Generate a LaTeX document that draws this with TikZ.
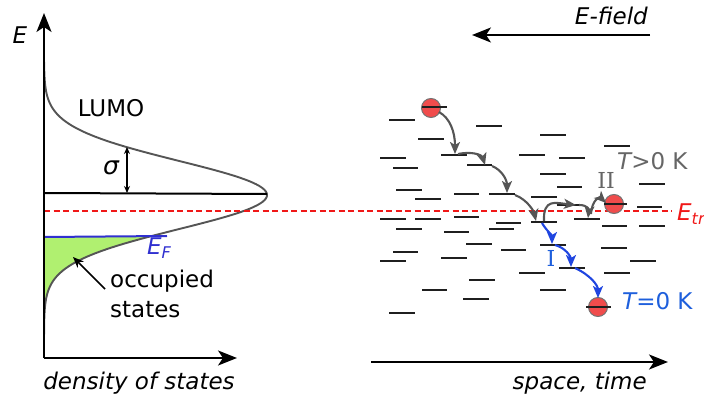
\documentclass[tikz,border=0pt]{standalone}
\usepackage{fontspec}
\setsansfont{DejaVu Sans}
\newfontfamily\romfont{DejaVu Serif}
\usetikzlibrary{arrows.meta}
\definecolor{dgray}{HTML}{555555}
\definecolor{tgray}{HTML}{666666}
\definecolor{hopblue}{HTML}{1F45E0}
\definecolor{tblue}{HTML}{1E5FDC}
\definecolor{efblue}{HTML}{3030D0}
\definecolor{etred}{HTML}{F01818}
\definecolor{occgreen}{HTML}{B0F070}
\definecolor{elred}{HTML}{F04C4C}
\tikzset{
  axisline/.style={line width=2pt, draw=black, -{Stealth[length=19pt,width=15pt,inset=5pt]}},
  site/.style={line width=2.4pt, draw=black!88},
  hopgray/.style={line width=2.1pt, draw=dgray, -{Stealth[length=12pt,width=10pt,inset=3pt]}},
  hopblue/.style={line width=2.1pt, draw=hopblue, -{Stealth[length=12pt,width=10pt,inset=3pt]}},
  electron/.style={circle, minimum size=19pt, fill=elred, draw=black!55, line width=1pt},
  lbl/.style={font=\sffamily\fontsize{23}{29}\selectfont, inner sep=0pt},
}
\newcommand{\site}[3]{\draw[site] (#1,#3) -- (#2,#3);}
\begin{document}
\begin{tikzpicture}[x=1pt,y=-1pt]
\useasboundingbox (0,0) rectangle (704,403);

% ---------- left panel: density of states ----------
\fill[occgreen] plot[domain=237:302,samples=60] ({44+223*exp(-0.5*((\x-195)/34)^2)},\x) -- (44,302) -- (44,237) -- cycle;
\draw[line width=1.9pt, dgray] plot[domain=62:340,samples=160] ({44+223*exp(-0.5*((\x-195)/34)^2)},\x);
\draw[line width=2pt] (44,193) -- (267,194);
\draw[line width=2pt, efblue] (44,237) -- (167,236);
\draw[etred, line width=1.7pt, dash pattern=on 6pt off 3.5pt] (44,211) -- (672,211);

\coordinate (origin) at (44,358);
\coordinate (Etop) at (44,13);
\coordinate (DOSend) at (237,358);
\draw[axisline] (origin) -- (Etop);
\draw[axisline] (origin) -- (DOSend);

\coordinate (sigtop) at (127,147);
\coordinate (sigbot) at (127,193);
\draw[line width=1.2pt, {Stealth[length=7pt,width=6pt]}-{Stealth[length=7pt,width=6pt]}] (sigtop) -- (sigbot);

\node[lbl, font=\sffamily\itshape\fontsize{23}{29}\selectfont] (Elab) at (20,35) {E};
\node[lbl] (lumo) at (111,108) {LUMO};
\node[lbl, font=\sffamily\itshape\fontsize{25}{29}\selectfont] (sig) at (111,168) {σ};
\node[lbl, text=efblue, anchor=west] (EF) at (147,248) {\itshape E\textsubscript{F}};
\node[lbl, anchor=west, align=left, font=\sffamily\fontsize{23}{30}\selectfont] (occ) at (110,294) {occupied\\states};
\coordinate (occtip) at (73,257);
\draw[line width=1.6pt, -{Stealth[length=11pt,width=9pt]}] (105,289) -- (occtip);
\node[lbl, font=\sffamily\itshape\fontsize{23}{29}\selectfont] (dos) at (139,383) {density of states};

% ---------- right panel: hopping ----------
\coordinate (Fr) at (650,35);
\coordinate (Fl) at (472,35);
\draw[axisline, line width=1.8pt] (Fr) -- (Fl);
\node[lbl, font=\sffamily\itshape\fontsize{23}{29}\selectfont, anchor=east] (Efield) at (648,16) {E-field};

\coordinate (Sl) at (371,362);
\coordinate (Sr) at (668,362);
\draw[axisline, line width=1.8pt] (Sl) -- (Sr);
\node[lbl, font=\sffamily\itshape\fontsize{23}{29}\selectfont, anchor=east] (space) at (647,383) {space, time};

% electrons
\node[electron] (e1) at (431,108) {};
\node[electron] (e2) at (614,204) {};
\node[electron] (e3) at (598,307) {};

% energy sites
\site{422}{447}{107}
\site{389}{415}{120}
\site{476}{502}{126}
\site{418}{444}{139}
\site{540}{566}{135}
\site{604}{630}{146}
\site{441}{467}{155}
\site{380}{406}{158}
\site{519}{545}{155}
\site{559}{585}{158}
\site{393}{418}{168}
\site{467}{492}{165}
\site{540}{566}{174}
\site{557}{582}{187}
\site{639}{665}{184}
\site{396}{422}{190}
\site{415}{441}{199}
\site{454}{479}{194}
\site{489}{515}{194}
\site{531}{557}{197}
\site{557}{580}{205}
\site{604}{627}{204}
\site{637}{662}{207}
\site{380}{406}{219}
\site{415}{441}{219}
\site{454}{479}{217}
\site{496}{521}{223}
\site{531}{557}{222}
\site{574}{600}{219}
\site{602}{627}{226}
\site{639}{665}{226}
\site{396}{422}{229}
\site{444}{469}{232}
\site{489}{514}{229}
\site{393}{418}{252}
\site{380}{406}{261}
\site{441}{467}{258}
\site{466}{492}{244}
\site{501}{526}{250}
\site{540}{566}{245}
\site{601}{627}{248}
\site{630}{656}{261}
\site{559}{585}{268}
\site{519}{545}{273}
\site{604}{630}{273}
\site{469}{495}{280}
\site{422}{447}{290}
\site{540}{566}{290}
\site{463}{489}{299}
\site{586}{611}{307}
\site{389}{415}{313}

% gray hops (T>0 K)
\coordinate (g0) at (439,112);
\coordinate (g1) at (455,154);
\coordinate (g1b) at (458,154);
\coordinate (g2) at (485,165);
\coordinate (g2b) at (492,166);
\coordinate (g3) at (507,193);
\coordinate (g3b) at (515,195);
\coordinate (g4) at (536,221);
\coordinate (g4b) at (544,221);
\coordinate (g5) at (576,205);
\coordinate (g5b) at (579,205);
\coordinate (g6) at (588,218);
\coordinate (g6b) at (591,214);
\coordinate (g7) at (606,203);
\draw[hopgray] (g0) .. controls (450,118) and (455,132) .. (g1);
\draw[hopgray] (g1b) .. controls (472,151) and (482,155) .. (g2);
\draw[hopgray] (g2b) .. controls (502,170) and (507,180) .. (g3);
\draw[hopgray] (g3b) .. controls (528,200) and (534,212) .. (g4);
\draw[hopgray] (g4b) .. controls (543,198) and (556,203) .. (g5);
\draw[hopgray] (g5b) .. controls (588,205) and (589,210) .. (g6);
\draw[hopgray] (g6b) .. controls (592,199) and (600,197) .. (g7);

% blue hops (T=0 K)
\coordinate (b0) at (542,223);
\coordinate (b1) at (552,244);
\coordinate (b1b) at (555,245);
\coordinate (b2) at (571,267);
\coordinate (b2b) at (575,268);
\coordinate (b3) at (598,298);
\draw[hopblue] (b0) .. controls (546,230) and (552,235) .. (b1);
\draw[hopblue] (b1b) .. controls (566,248) and (571,257) .. (b2);
\draw[hopblue] (b2b) .. controls (590,275) and (598,285) .. (b3);

\node[lbl, text=tgray, anchor=west] (Tpos) at (617,161) {\itshape T\upshape >0 K};
\node[lbl, text=tgray, font=\romfont\fontsize{22}{29}\selectfont] (II) at (606,180) {II};
\node[lbl, text=tblue, font=\romfont\fontsize{22}{29}\selectfont] (I) at (551,258) {I};
\node[lbl, text=tblue, anchor=west] (Tzero) at (622,301) {\itshape T\upshape =0 K};
\node[lbl, text=etred, anchor=west] (Etr) at (677,214) {\itshape E\textsubscript{tr}};
\end{tikzpicture}
\end{document}
